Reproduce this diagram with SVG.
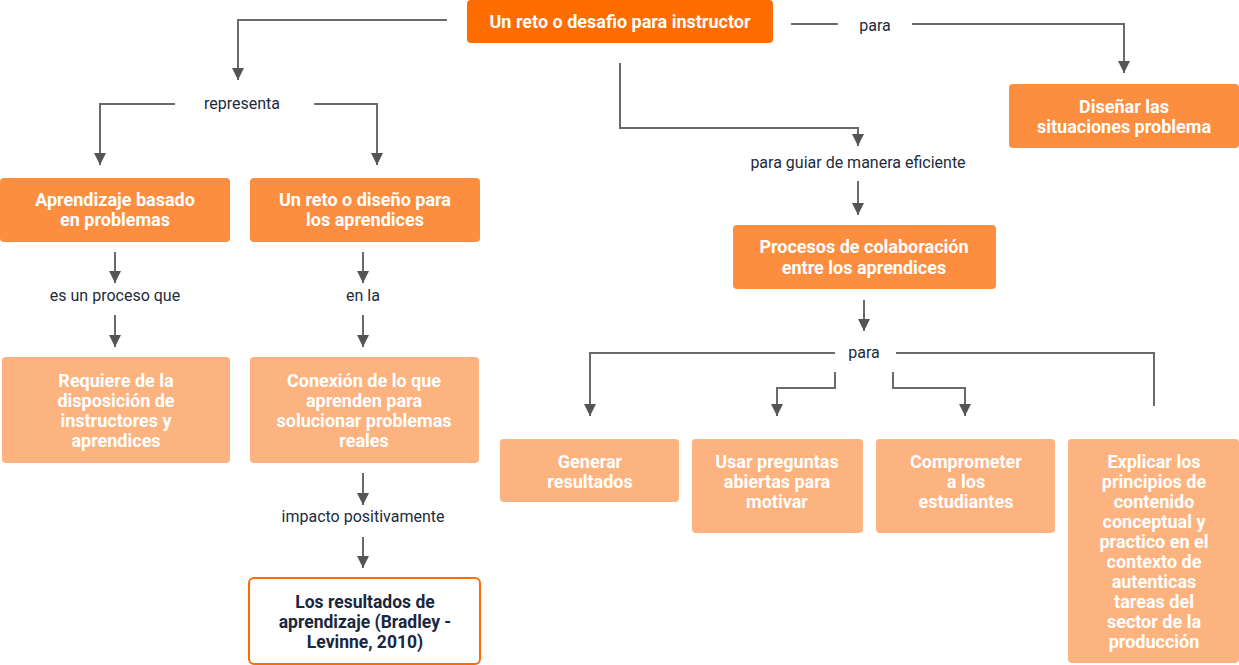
<svg xmlns="http://www.w3.org/2000/svg" width="1239" height="665" viewBox="0 0 1239 665">
<defs>
<marker id="arr" markerUnits="userSpaceOnUse" markerWidth="14" markerHeight="12" refX="12" refY="6" orient="auto">
<path d="M0,0 L12,6 L0,12 Z" fill="#555555"/>
</marker>
<style>
.c{fill:none;stroke:#6a6a6a;stroke-width:2}
.a{marker-end:url(#arr)}
.n1{fill:#FF6C00}
.n2{fill:#FD8E3F}
.n3{fill:#FDB37F}
.n4{fill:#ffffff;stroke:#FF6C00;stroke-width:2}
.t{font-family:Roboto,"Liberation Sans",sans-serif;font-weight:700;font-size:18px;font-stretch:90%;fill:#ffffff;text-anchor:middle}
.td{font-family:Roboto,"Liberation Sans",sans-serif;font-weight:700;font-size:17.5px;fill:#1a2740;text-anchor:middle}
.l{font-family:Roboto,"Liberation Sans",sans-serif;font-size:16px;fill:#1e2b3c;text-anchor:middle}
</style>
</defs>
<g id="connectors">
<path class="c a" d="M447,20 H238 V80"/>
<path class="c a" d="M175,104 H100 V165"/>
<path class="c a" d="M314,104 H377 V165"/>
<path class="c a" d="M115,252 V283"/>
<path class="c a" d="M115,315 V347"/>
<path class="c a" d="M363,252 V283"/>
<path class="c a" d="M363,315 V347"/>
<path class="c a" d="M363,473 V505"/>
<path class="c a" d="M363,537 V568"/>
<path class="c" d="M791,24 H838"/>
<path class="c a" d="M912,24 H1124 V73"/>
<path class="c a" d="M620,63 V128 H858 V146"/>
<path class="c a" d="M858,181 V215"/>
<path class="c a" d="M864,300 V331"/>
<path class="c a" d="M835,353 H590 V416"/>
<path class="c a" d="M835,372 V388 H777 V416"/>
<path class="c a" d="M893,372 V388 H965 V416"/>
<path class="c" d="M896,353 H1154 V406"/>
</g>
<g id="labels">
<text class="l" x="242" y="109">representa</text>
<text class="l" x="875" y="31">para</text>
<text class="l" x="858" y="168">para guiar de manera eficiente</text>
<text class="l" x="115" y="301">es un proceso que</text>
<text class="l" x="363" y="301">en la</text>
<text class="l" x="363" y="522">impacto positivamente</text>
<text class="l" x="864" y="358">para</text>
</g>
<g id="n-top">
<rect class="n1" x="467" y="0" width="306" height="43" rx="4"/>
<text class="t" x="620" y="28">Un reto o desafio para instructor</text>
</g>
<g id="n-abp">
<rect class="n2" x="0" y="178" width="230" height="64" rx="4"/>
<text class="t" x="115" y="206">Aprendizaje basado</text>
<text class="t" x="115" y="226">en problemas</text>
</g>
<g id="n-reto">
<rect class="n2" x="250" y="178" width="230" height="64" rx="4"/>
<text class="t" x="365" y="206">Un reto o diseño para</text>
<text class="t" x="365" y="226">los aprendices</text>
</g>
<g id="n-requiere">
<rect class="n3" x="2" y="357" width="228" height="106" rx="4"/>
<text class="t" x="116" y="387">Requiere de la</text>
<text class="t" x="116" y="407">disposición de</text>
<text class="t" x="116" y="427">instructores y</text>
<text class="t" x="116" y="447">aprendices</text>
</g>
<g id="n-conexion">
<rect class="n3" x="250" y="357" width="229" height="106" rx="4"/>
<text class="t" x="364" y="387">Conexión de lo que</text>
<text class="t" x="364" y="407">aprenden para</text>
<text class="t" x="364" y="427">solucionar problemas</text>
<text class="t" x="364" y="447">reales</text>
</g>
<g id="n-resultados">
<rect class="n4" x="249" y="578" width="231" height="86" rx="5"/>
<text class="td" x="365" y="608">Los resultados de</text>
<text class="td" x="365" y="628">aprendizaje (Bradley -</text>
<text class="td" x="365" y="648">Levinne, 2010)</text>
</g>
<g id="n-disenar">
<rect class="n2" x="1009" y="84" width="230" height="64" rx="4"/>
<text class="t" x="1124" y="113">Diseñar las</text>
<text class="t" x="1124" y="133">situaciones problema</text>
</g>
<g id="n-procesos">
<rect class="n2" x="733" y="225" width="263" height="64" rx="4"/>
<text class="t" x="864" y="253">Procesos de colaboración</text>
<text class="t" x="864" y="274">entre los aprendices</text>
</g>
<g id="n-generar">
<rect class="n3" x="500" y="439" width="179" height="63" rx="4"/>
<text class="t" x="590" y="468">Generar</text>
<text class="t" x="590" y="488">resultados</text>
</g>
<g id="n-usar">
<rect class="n3" x="692" y="439" width="171" height="94" rx="4"/>
<text class="t" x="777" y="468">Usar preguntas</text>
<text class="t" x="777" y="488">abiertas para</text>
<text class="t" x="777" y="508">motivar</text>
</g>
<g id="n-comprometer">
<rect class="n3" x="876" y="439" width="179" height="94" rx="4"/>
<text class="t" x="966" y="468">Comprometer</text>
<text class="t" x="966" y="488">a los</text>
<text class="t" x="966" y="508">estudiantes</text>
</g>
<g id="n-explicar">
<rect class="n3" x="1068" y="439" width="171" height="224" rx="4"/>
<text class="t" x="1154" y="468">Explicar los</text>
<text class="t" x="1154" y="488">principios de</text>
<text class="t" x="1154" y="508">contenido</text>
<text class="t" x="1154" y="528">conceptual y</text>
<text class="t" x="1154" y="548">practico en el</text>
<text class="t" x="1154" y="568">contexto de</text>
<text class="t" x="1154" y="588">autenticas</text>
<text class="t" x="1154" y="608">tareas del</text>
<text class="t" x="1154" y="628">sector de la</text>
<text class="t" x="1154" y="648">producción</text>
</g>
</svg>
